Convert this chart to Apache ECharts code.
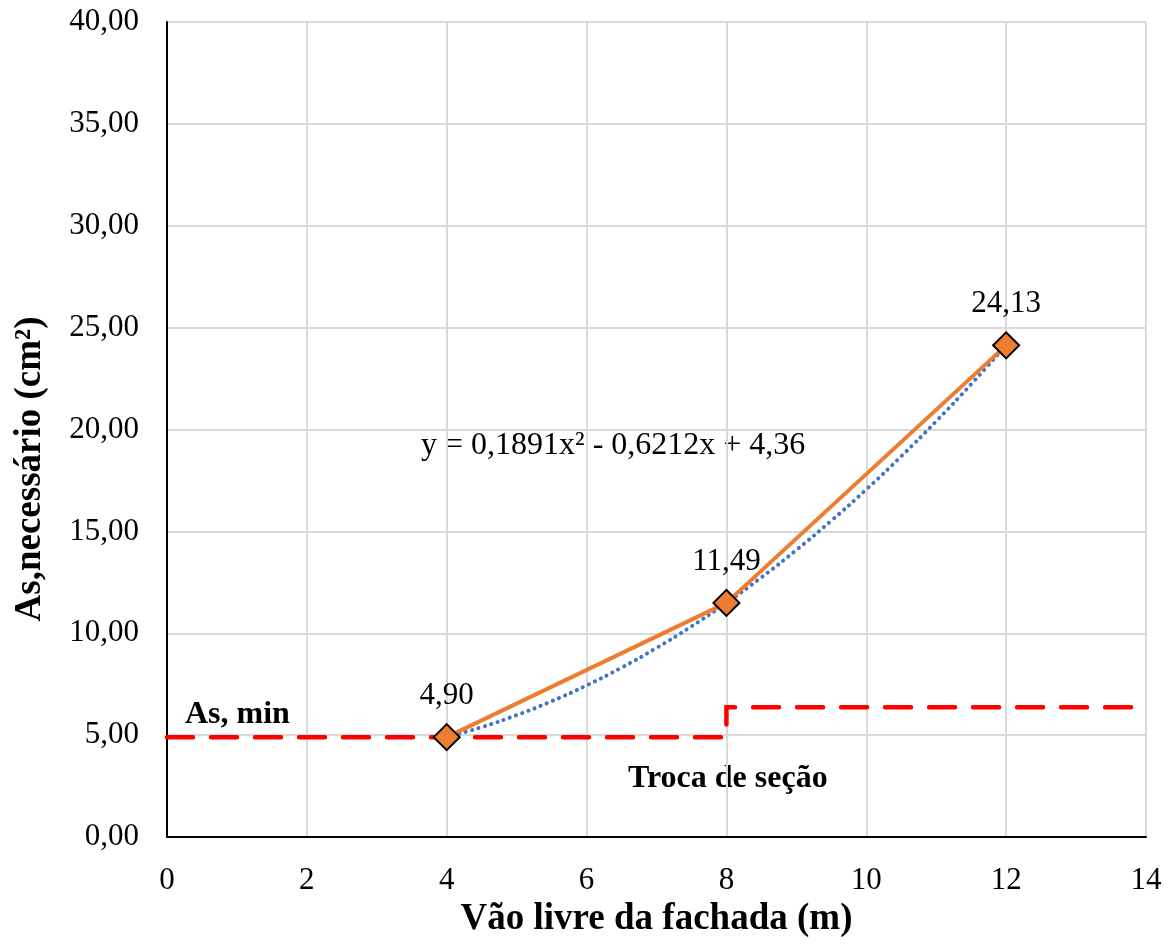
<!DOCTYPE html>
<html>
<head>
<meta charset="utf-8">
<script src="https://cdn.jsdelivr.net/npm/echarts@6/dist/echarts.min.js"></script>
<style>
  html, body { margin: 0; padding: 0; background: #fff; }
  #chart { width: 1171px; height: 945px; }
</style>
</head>
<body>
<div id="chart"></div>
<script>
// Required steel area per span
const spans = [4, 8, 12];
const asRequired = [4.90, 11.49, 24.13];

// Minimum steel area, stepping up where the section changes
const asMinX = [0, 8, 8, 14];
const asMinY = [4.90, 4.90, 6.37, 6.37];

// Quadratic trend line coefficients: y = a x² + b x + c
const trendCoef = [0.1891, -0.6212, 4.36];
const trendX = [4, 4.5, 5, 5.5, 6, 6.5, 7, 7.5, 8, 8.5, 9, 9.5, 10, 10.5, 11, 11.5, 12];

const fmt = v => v.toFixed(2).replace('.', ',');
const serif = '"Liberation Serif", "Times New Roman", serif';

const trendData = trendX.map(x => [x, trendCoef[0] * x * x + trendCoef[1] * x + trendCoef[2]]);

const chart = echarts.init(document.getElementById('chart'));
chart.setOption({
  animation: false,
  backgroundColor: '#fff',
  grid: { left: 167, right: 25, top: 22, bottom: 108 },
  xAxis: {
    type: 'value', min: 0, max: 14, interval: 2,
    name: 'Vão livre da fachada (m)',
    nameLocation: 'middle', nameGap: 59,
    nameTextStyle: { fontFamily: serif, fontSize: 37, fontWeight: 'bold', color: '#000' },
    axisLine: { show: true, onZero: false, lineStyle: { color: '#000', width: 2 } },
    axisTick: { show: false },
    axisLabel: { fontFamily: serif, fontSize: 31, color: '#000', margin: 28 },
    splitLine: { show: true, lineStyle: { color: '#d9d9d9', width: 2 } }
  },
  yAxis: {
    type: 'value', min: 0, max: 40, interval: 5,
    axisLine: { show: true, lineStyle: { color: '#000', width: 2 } },
    axisTick: { show: false },
    axisLabel: { fontFamily: serif, fontSize: 31, color: '#000', margin: 28, formatter: fmt },
    splitLine: { show: true, lineStyle: { color: '#d9d9d9', width: 2 } }
  },
  series: [
    {
      name: 'As,min',
      type: 'line',
      data: asMinX.map((x, i) => [x, asMinY[i]]),
      symbol: 'none',
      lineStyle: { color: '#ff0000', width: 4.5, type: [26, 18], cap: 'round', join: 'miter' },
      z: 2
    },
    {
      name: 'Tendência',
      type: 'line',
      data: trendData,
      smooth: true,
      symbol: 'none',
      lineStyle: { color: '#4472c4', width: 4, type: [0.1, 6.5], cap: 'round' },
      z: 3
    },
    {
      name: 'As,necessário',
      type: 'line',
      data: spans.map((x, i) => [x, asRequired[i]]),
      symbol: 'diamond',
      symbolSize: 26,
      itemStyle: { color: '#ed7d31', borderColor: '#000', borderWidth: 2 },
      lineStyle: { color: '#ed7d31', width: 4 },
      label: {
        show: true, position: 'top', distance: 12,
        fontFamily: serif, fontSize: 31, color: '#000',
        formatter: p => fmt(p.value[1])
      },
      z: 4
    }
  ],
  graphic: [
    {
      type: 'text', x: 30, y: 469, rotation: Math.PI / 2,
      style: {
        text: 'As,necessário (cm²)', font: 'bold 37px ' + serif, fill: '#000',
        align: 'center', verticalAlign: 'middle'
      }
    },
    {
      type: 'text', left: 185, top: 699,
      style: { text: 'As, min', font: 'bold 32px ' + serif, fill: '#000' }
    },
    {
      type: 'text', left: 628, top: 763,
      style: { text: 'Troca de seção', font: 'bold 32px ' + serif, fill: '#000' }
    },
    {
      type: 'text', left: 421, top: 430,
      style: { text: 'y = 0,1891x² - 0,6212x + 4,36', font: '32px ' + serif, fill: '#000' }
    }
  ]
});
</script>
</body>
</html>
